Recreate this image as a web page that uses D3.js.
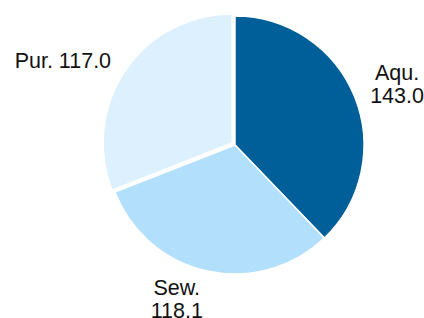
<!DOCTYPE html>
<html>
<head>
<meta charset="utf-8">
<script src="https://cdn.jsdelivr.net/npm/d3@7"></script>
<style>
  html, body { margin: 0; padding: 0; background: #fff; }
</style>
</head>
<body>
<div id="chart"></div>
<script>
// slice data
var labels = ['Aqu.', 'Sew.', 'Pur.']
var values = [143.0, 118.1, 117.0]
var colors = ['#005e98', '#b1dffc', '#dcf0fd']
var labelLines = [['Aqu.', '143.0'], ['Sew.', '118.1'], ['Pur. 117.0']]
var explode = [0, 0, 3.5]

var width = 424,
    height = 318,
    cx = 235,
    cy = 145,
    radius = 129,
    labelRadius = 150,
    fontSize = 21.5,
    lineHeight = 23

var data = labels.map((d, i) => ({label: d, value: values[i], color: colors[i], lines: labelLines[i], off: explode[i]}))

var pie = d3.pie().sort(null).value(d => d.value)
var arc = d3.arc().innerRadius(0).outerRadius(radius)

var svg = d3.select('#chart')
    .append('svg')
    .attr('width', width)
    .attr('height', height)
    .attr('font-family', 'Liberation Sans, Arial, sans-serif')

var g = svg.append('g')
    .attr('transform', `translate(${cx},${cy})`)

var arcs = pie(data)

g.selectAll('path')
    .data(arcs)
    .join('path')
    .attr('transform', d => {
        var a = (d.startAngle + d.endAngle) / 2
        return `translate(${Math.sin(a) * d.data.off},${-Math.cos(a) * d.data.off})`
    })
    .attr('d', arc)
    .attr('fill', d => d.data.color)
    .attr('stroke', '#fff')
    .attr('stroke-width', 1.5)
    .attr('stroke-linejoin', 'round')

// labels: block anchored at a point on labelRadius along the mid angle
arcs.forEach(d => {
    var a = (d.startAngle + d.endAngle) / 2
    var px = Math.sin(a) * labelRadius
    var py = -Math.cos(a) * labelRadius
    var t = g.append('text')
        .attr('font-size', fontSize + 'px')
        .attr('fill', '#111')
        .attr('text-anchor', 'middle')
    d.data.lines.forEach(ln => {
        t.append('tspan').text(ln)
    })
    var widths = []
    t.selectAll('tspan').each(function() { widths.push(this.getComputedTextLength()) })
    var w = d3.max(widths)
    var n = d.data.lines.length
    var bx = px > 0 ? px + w / 2 - 4 : px - w / 2
    var blockH = n * lineHeight
    var by
    if (py > radius * 0.9) by = py - 4 - lineHeight / 2
    else by = py - blockH / 2 - (py < 0 && n > 1 ? 5 : 0)
    t.selectAll('tspan')
        .attr('x', bx)
        .attr('y', (ln, k) => by + k * lineHeight + lineHeight / 2)
        .attr('dy', '0.35em')
})
</script>
</body>
</html>
